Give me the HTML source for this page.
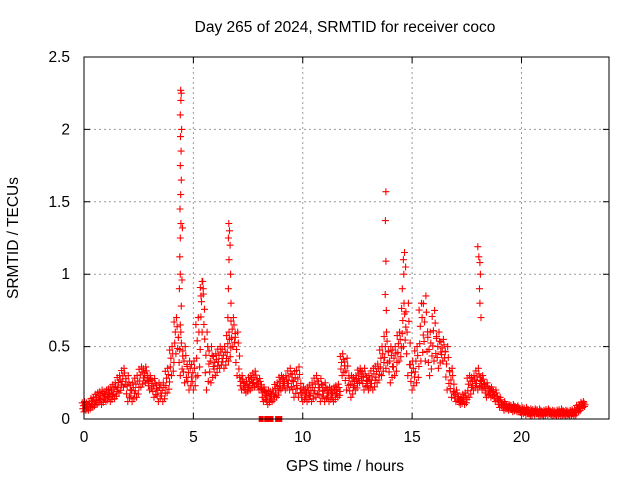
<!DOCTYPE html>
<html><head><meta charset="utf-8"><style>
body{margin:0;background:#fff;}
svg{display:block;font-family:"Liberation Sans",sans-serif;}
</style></head><body>
<svg id="chart" width="640" height="480">
<text x="345" y="32" text-anchor="middle" font-size="15.5">Day 265 of 2024, SRMTID for receiver coco</text>
<text x="345" y="471" text-anchor="middle" font-size="15.5">GPS time / hours</text>
<text transform="translate(18,238) rotate(-90)" text-anchor="middle" font-size="15.5">SRMTID / TECUs</text>
<g id="grid"></g>
<g id="ticks"></g>
<g id="marks"></g>
<rect x="84" y="57" width="525" height="362" fill="none" stroke="#000" stroke-width="1"/>
</svg>
<script>
const xTicks=[0,5,10,15,20];
const yTicks=[0,0.5,1,1.5,2,2.5];
const yTickLabels=["0","0.5","1","1.5","2","2.5"];
const stepHours=0.2;
const lowVals=[0.05,0.06,0.08,0.1,0.1,0.12,0.12,0.14,0.18,0.22,0.12,0.12,0.15,0.22,0.25,0.2,0.15,0.12,0.12,0.18,0.3,0.45,0.3,0.25,0.2,0.2,0.3,0.6,0.2,0.25,0.3,0.35,0.35,0.4,0.5,0.3,0.2,0.18,0.2,0.22,0.2,0.12,0.1,0.12,0.15,0.2,0.2,0.2,0.15,0.15,0.12,0.12,0.12,0.15,0.12,0.12,0.12,0.12,0.15,0.3,0.2,0.15,0.2,0.25,0.2,0.2,0.2,0.25,0.3,0.35,0.25,0.3,0.4,0.5,0.3,0.2,0.25,0.4,0.4,0.3,0.4,0.35,0.4,0.2,0.15,0.12,0.1,0.1,0.15,0.2,0.2,0.2,0.15,0.15,0.12,0.08,0.06,0.06,0.05,0.05,0.03,0.03,0.02,0.03,0.02,0.02,0.03,0.02,0.02,0.02,0.02,0.02,0.02,0.05,0.08];
const highVals=[0.12,0.12,0.15,0.18,0.2,0.2,0.22,0.25,0.3,0.35,0.3,0.25,0.3,0.36,0.36,0.3,0.28,0.25,0.25,0.35,0.5,0.7,0.6,0.5,0.4,0.4,0.7,0.95,0.6,0.5,0.45,0.5,0.5,0.6,0.7,0.6,0.3,0.26,0.3,0.33,0.28,0.22,0.2,0.2,0.25,0.3,0.3,0.35,0.33,0.36,0.22,0.22,0.25,0.3,0.28,0.25,0.22,0.22,0.24,0.45,0.42,0.3,0.3,0.35,0.35,0.3,0.35,0.38,0.5,0.6,0.5,0.5,0.6,0.8,0.8,0.4,0.5,0.8,0.85,0.6,0.75,0.6,0.55,0.5,0.35,0.2,0.15,0.18,0.3,0.3,0.35,0.3,0.25,0.22,0.2,0.15,0.12,0.1,0.1,0.09,0.08,0.08,0.07,0.07,0.07,0.06,0.07,0.06,0.06,0.07,0.06,0.06,0.07,0.1,0.12];
const spikeHours=[4.42,4.45,4.43,4.4,4.46,4.41,4.44,4.4,4.45,4.42,4.39,4.43,4.4,4.38,4.4,4.36,4.45,4.4,4.5,4.48,6.62,6.65,6.6,6.68,6.63,6.7,6.6,6.72,6.58,13.8,13.78,13.8,13.77,13.82,14.65,14.6,14.7,14.62,14.55,18.0,18.05,18.1,18.12,18.08,18.1,18.15,5.4,5.45,5.35];
const spikeVals=[2.27,2.25,2.2,2.1,2.0,1.95,1.85,1.75,1.65,1.55,1.45,1.35,1.25,1.12,1.0,0.9,0.78,0.65,1.32,0.96,1.35,1.3,1.25,1.2,1.1,1.0,0.9,0.8,0.7,1.57,1.37,1.09,0.86,0.75,1.15,1.1,1.05,1.0,0.9,1.19,1.12,1.08,1.0,0.9,0.8,0.7,0.95,0.9,0.85];
const zeroHours=[8.1,8.35,8.55,8.85,8.95];
const zeroVals=[0,0,0,0,0];

const X0=84,X1=609,Y0=419,Y1=57;
const xs=h=>X0+(h/24)*(X1-X0);
const ys=v=>Y0-(v/2.5)*(Y0-Y1);
const NS="http://www.w3.org/2000/svg";
const grid=document.getElementById('grid'),ticks=document.getElementById('ticks'),marks=document.getElementById('marks');
function mk(tag,attrs,parent){const e=document.createElementNS(NS,tag);for(const k in attrs)e.setAttribute(k,attrs[k]);parent.appendChild(e);return e;}
xTicks.forEach(t=>{
  const x=xs(t);
  if(t>0){const g=mk('line',{x1:x,x2:x,y1:Y0,y2:Y1,stroke:'#999','stroke-dasharray':'2,3'},grid);
  
  }
  const l=mk('path',{d:`M${x} ${Y0}v-6M${x} ${Y1}v6`,stroke:'#000'},ticks);
  
  
  const tx=mk('text',{x:x,y:Y0+23,'text-anchor':'middle','font-size':'15.5'},ticks);tx.textContent=String(t);
  
  
});
yTicks.forEach((t,i)=>{
  const y=ys(t);
  if(t>0&&t<2.5){const g=mk('line',{x1:X0,x2:X1,y1:y,y2:y,stroke:'#999','stroke-dasharray':'2,3'},grid);
  
  }
  const l=mk('path',{d:`M${X0} ${y}h6M${X1} ${y}h-6`,stroke:'#000'},ticks);
  
  
  const tx=mk('text',{x:X0-14,y:y+5,'text-anchor':'end','font-size':'15.5'},ticks);tx.textContent=yTickLabels[i];
  
  
});
let d='';
const plus=(x,y)=>{d+=`M${(x-3.5).toFixed(1)} ${y.toFixed(1)}h7M${x.toFixed(1)} ${(y-3.5).toFixed(1)}v7`;};
let band='';
const fr=[0,0.15,0.3,0.45,0.6,0.75,0.88,1];
const dx=[0,1.8,-1.2,2.4,-0.6,1.2,-1.8,0.6];
lowVals.forEach((lo,i)=>{
  const h=i*stepHours,hi=highVals[i],x=xs(h),span=hi-lo;
  fr.forEach((f,k)=>plus(x+dx[k],ys(lo+span*f)));
});
spikeHours.forEach((h,i)=>plus(xs(h),ys(spikeVals[i])));
zeroHours.forEach((h,i)=>{band+=`M${(xs(h)-2.5).toFixed(1)} ${(ys(zeroVals[i])-3).toFixed(1)}h5v6h-5Z`;});
const b=mk('path',{d:band,fill:'#f00'},marks);


const p=mk('path',{d:d,stroke:'#f00','stroke-width':'1.1',fill:'none'},marks);


</script>
</body></html>
